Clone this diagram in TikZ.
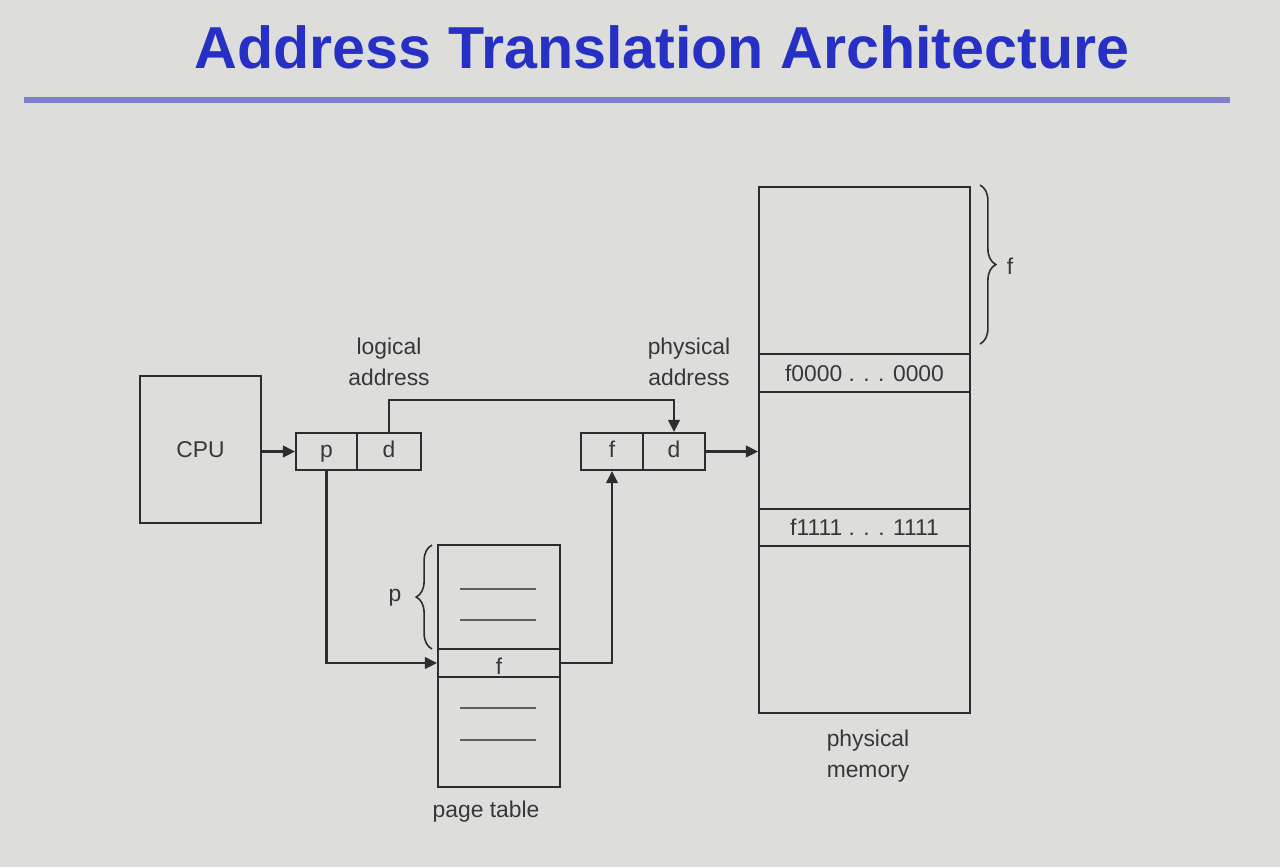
\documentclass[tikz,border=0pt]{standalone}
\usepackage{fontspec}
\setmainfont{Liberation Sans}
\usetikzlibrary{arrows.meta,decorations.pathreplacing}
\definecolor{folie}{RGB}{221,221,219}
\definecolor{titelblau}{RGB}{38,48,196}
\definecolor{balken}{RGB}{128,128,208}
\definecolor{strich}{RGB}{45,45,45}
\definecolor{schrift}{RGB}{55,55,55}
\definecolor{eintrag}{RGB}{95,95,95}

\begin{document}
\begin{tikzpicture}[x=0.02cm, y=-0.02cm, strich, text=schrift,
    font=\fontsize{13}{18}\selectfont,
    box/.style={draw, line width=1pt, inner sep=0pt},
    feld/.style={box, minimum height=0.74cm, text height=1.6ex, text depth=0.3ex},
    pfeil/.style={line width=1.6pt, -{Triangle[length=7pt,width=6.5pt]}},
    klammer/.style={decorate, decoration={brace, amplitude=9pt}, line width=0.9pt}]

    \fill[folie] (0,0) rectangle (1280,867);
    \useasboundingbox (0,0) rectangle (1280,867);

    % title
    \node[anchor=base, text=titelblau, font=\fontsize{33.7}{36}\selectfont\bfseries] (titel) at (662,68) {Address Translation Architecture};
    \draw[balken, line width=0.13cm] (24,100) -- (1230,100);

    % boxes
    \node[box, minimum width=2.42cm, minimum height=2.94cm] (cpu) at (200.5,449.5) {CPU};
    \node[feld, minimum width=1.22cm] (p) at (326.5,451.5) {p};
    \node[feld, minimum width=1.28cm] (d) at (389,451.5) {d};
    \node[feld, minimum width=1.24cm] (pf) at (612,451.5) {f};
    \node[feld, minimum width=1.24cm] (pd) at (674,451.5) {d};

    \node[box, minimum width=2.44cm, minimum height=4.84cm] (pt) at (499,666) {};
    \node[box, minimum width=2.44cm, minimum height=0.56cm] (frow) at (499,663) {};
    \node[yshift=-2pt] (feintrag) at (frow) {f};
    \foreach \y in {589,620,708,740}
        \draw[eintrag, line width=1pt] (460,\y) -- (536,\y);

    \node[box, minimum width=4.22cm, minimum height=10.52cm] (mem) at (864.5,450) {};
    \node[box, minimum width=4.22cm, minimum height=0.76cm] (f0row) at (864.5,373) {f0000 . . . 0000};
    \node[box, minimum width=4.22cm, minimum height=0.74cm] (f1row) at (864.5,527.5) {f1111 . . . 1111};

    % braces
    \draw[klammer] (432,649) -- (432,545);
    \node (pklammer) at (395,598) {p};
    \draw[klammer] (980,185) -- (980,344);
    \node (fklammer) at (1010,266) {f};

    % labels
    \node[align=center] (logadr) at (389,362) {logical\\address};
    \node[align=center] (phyadr) at (689,362) {physical\\address};
    \node (ptname) at (486,812) {page table};
    \node[align=center] (memname) at (868,756) {physical\\memory};

    % connectors
    \draw[pfeil] (cpu.east |- p.west) -- (p.west);
    \draw[pfeil] (d.north) |- (pd.north |- 0,400) -- (pd.north);
    \draw[pfeil] (p.south) |- (frow.west);
    \draw[pfeil] (frow.east) -| (pf.south);
    \draw[pfeil] (pd.east) -- (mem.west |- pd.east);

\end{tikzpicture}
\end{document}
